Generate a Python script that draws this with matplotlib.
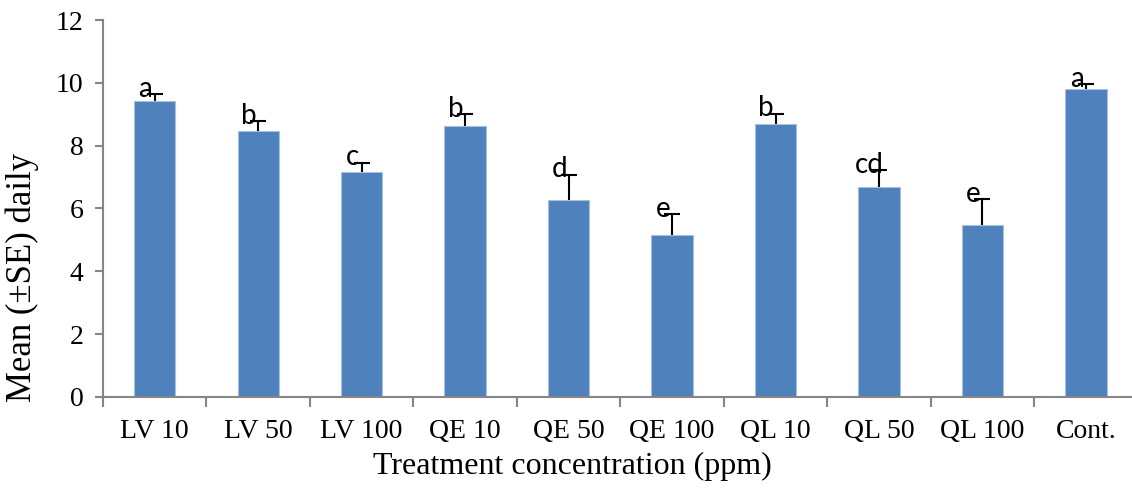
import numpy as np
import matplotlib
matplotlib.use('Agg')
import matplotlib.pyplot as plt

# Data
treatments = ['LV 10', 'LV 50', 'LV 100', 'QE 10', 'QE 50', 'QE 100',
              'QL 10', 'QL 50', 'QL 100', 'Cont.']
means = [9.42, 8.47, 7.15, 8.63, 6.26, 5.14, 8.70, 6.69, 5.46, 9.82]
se = [0.22, 0.31, 0.31, 0.37, 0.82, 0.67, 0.32, 0.53, 0.84, 0.13]
letters = ['a', 'b', 'c', 'b', 'd', 'e', 'b', 'cd', 'e', 'a']

plt.rcParams['font.family'] = ['Liberation Serif', 'DejaVu Serif']

fig = plt.figure(figsize=(11.32, 4.9), dpi=100)
ax = fig.add_axes([0.091, 0.19, 0.914, 0.769])

x = np.arange(len(treatments))
# symmetric error bars drawn behind the bars so only the upper half shows
ax.errorbar(x, means, yerr=se, fmt='none',
            ecolor='black', elinewidth=1.5, capsize=6, capthick=1.5, zorder=1)
ax.bar(x, means, width=0.40, color='#4F81BD', edgecolor='#A7C0DE',
       linewidth=0.8, zorder=2)

for xi, m, s, lab in zip(x, means, se, letters):
    ax.text(xi - 0.09, m + s - 0.08, lab, ha='center', va='baseline',
            fontsize=20, family=['Lato', 'DejaVu Sans'], zorder=4)

ax.set_xlim(-0.5, len(treatments) - 0.5)
ax.set_ylim(0, 12)
ax.set_yticks(np.arange(0, 13, 2))
ax.set_xticks(x)
ax.set_xticklabels(treatments)
ax.set_xticks(np.arange(-0.5, len(treatments), 1), minor=True)

for side in ['top', 'right']:
    ax.spines[side].set_visible(False)
for side in ['left', 'bottom']:
    ax.spines[side].set_color('#868686')
    ax.spines[side].set_linewidth(1.5)

ax.tick_params(axis='x', which='major', length=0, labelsize=20, pad=16)
ax.tick_params(axis='x', which='minor', length=7, width=1.5,
               color='#868686', direction='out')
ax.tick_params(axis='y', length=6, width=1.5, color='#868686',
               direction='out', labelsize=20, pad=8)

ax.set_xlabel('Treatment concentration (ppm)', fontsize=23)
ax.set_ylabel('Mean (\u00b1SE) daily', fontsize=25)
ax.xaxis.set_label_coords(0.454, -0.145)
ax.yaxis.set_label_coords(-0.062, 0.316)

fig.savefig('out.png', dpi=100)
